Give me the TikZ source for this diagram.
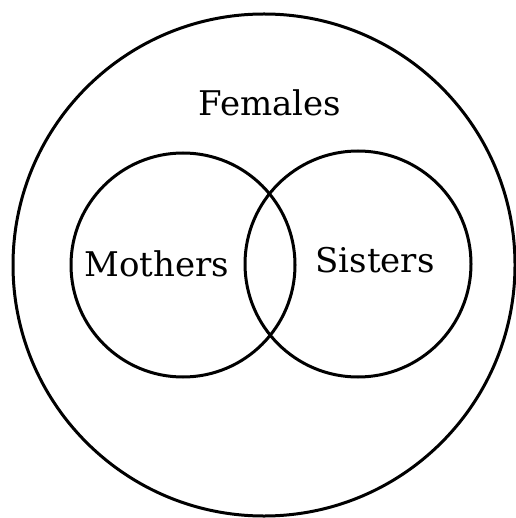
\documentclass[tikz,border=0pt]{standalone}
\usepackage{fontspec}
\setmainfont{DejaVu Serif}
\usepackage{tikz}

\begin{document}
\begin{tikzpicture}[x=1pt, y=-1pt,
    setring/.style={circle, draw=black, line width=3pt, inner sep=0pt},
    setname/.style={font=\fontsize{34}{38}\selectfont, anchor=base},
  ]
    \useasboundingbox (0,0) rectangle (515,518);

    % universe and the two sets
    \node[setring, minimum size=502pt] (females) at (264,265) {};
    \node[setring, minimum size=224pt] (mothers) at (183,265) {};
    \node[setring, minimum size=226pt] (sisters) at (358,264) {};

    % labels
    \node[setname] (femaleslbl) at (270,116) {Females};
    \node[setname] (motherslbl) at (157,276) {Mothers};
    \node[setname] (sisterslbl) at (375,272) {Sisters};
  \end{tikzpicture}
\end{document}
